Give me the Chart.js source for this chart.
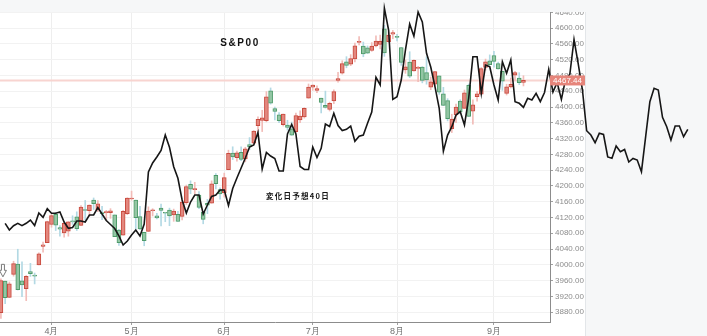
<!DOCTYPE html>
<html lang="ja">
<head>
  <meta charset="UTF-8">
  <title>S&P00</title>
  <script src="https://cdnjs.cloudflare.com/ajax/libs/Chart.js/4.4.1/chart.umd.min.js"></script>
  <style>
    * { margin: 0; padding: 0; }
    body { background: #f6f7f8; }
    canvas { display: block; }
  </style>
</head>
<body>
  <canvas id="chart" width="707" height="336"></canvas>

  <script>
    // month labels and the trading-day index where each month starts
    const monthLabels = ['4月', '5月', '6月', '7月', '8月', '9月'];
    const monthStarts = [12, 31, 53, 74, 94, 117];

    const yTicks = [3880, 3920, 3960, 4000, 4040, 4080, 4120, 4160, 4200, 4240, 4280, 4320,
      4360, 4400, 4440, 4480, 4520, 4560, 4600, 4640];

    // daily candles, 3/16 .. 9/13
    const opens = [3878.93,3958.69,3917.47,3975.89,4002.04,3959.21,3939.21,3982.93,3974.13,3999.53,4046.74,4056.18,
      4102.20,4128.03,4094.50,4081.15,4085.20,4110.29,4121.72,4100.04,4140.11,4137.17,4164.26,4139.33,4130.48,4132.14,4132.07,4126.43,4087.78,4075.29,4129.63,
      4166.79,4164.10,4122.25,4082.61,4084.73,4136.98,4124.25,4143.74,4132.24,4138.54,4126.65,4127.95,4122.85,4157.68,4204.15,4190.78,4176.80,4132.96,4155.71,4156.16,4226.71,4190.74,
      4183.03,4241.01,4282.99,4271.34,4285.47,4268.69,4304.88,4308.32,4352.61,4366.29,4365.33,4440.95,4396.11,4380.01,4355.40,4354.17,4344.84,4337.36,4367.48,4374.94,4422.44,
      4450.48,4442.04,4422.62,4404.54,4394.23,4415.55,4467.69,4485.63,4514.61,4508.86,4521.78,4563.87,4554.38,4550.16,4543.39,4555.19,4558.96,4598.26,4565.75,4584.82,
      4578.83,4550.93,4494.27,4513.96,4491.58,4498.03,4501.57,4487.16,4450.69,4458.13,4478.87,4433.79,4416.32,4344.88,4380.28,4415.33,4396.44,4455.16,4389.38,4426.03,4432.75,4500.34,4517.01,
      4530.60,4510.06,4490.35,4434.55,4451.30,4480.98,4473.27,4462.65];
    const highs = [3964.46,3958.91,3956.62,4009.08,4039.49,4007.66,3972.74,4003.83,3979.20,4030.59,4057.85,4110.75,
      4127.66,4133.13,4099.69,4107.32,4109.50,4124.26,4134.37,4150.26,4163.19,4151.72,4169.48,4162.57,4148.57,4138.02,4142.41,4126.43,4089.67,4138.24,4170.06,
      4186.92,4164.10,4148.30,4082.61,4147.02,4142.30,4130.35,4154.28,4132.80,4143.74,4141.25,4135.54,4164.67,4202.20,4212.91,4209.22,4185.68,4132.96,4165.74,4212.87,4231.10,4195.44,
      4232.43,4290.67,4299.28,4288.33,4299.19,4298.01,4322.62,4340.13,4375.37,4391.82,4439.20,4448.47,4400.15,4386.22,4382.25,4366.55,4362.06,4384.42,4390.35,4398.39,4458.48,
      4456.46,4454.06,4422.62,4440.39,4412.60,4443.64,4488.34,4517.38,4527.76,4532.85,4562.30,4578.43,4564.74,4555.00,4563.41,4580.62,4582.47,4607.07,4590.16,4594.22,
      4584.62,4550.93,4519.49,4540.34,4519.84,4503.31,4502.44,4527.37,4476.23,4490.33,4478.87,4449.95,4421.17,4381.82,4407.55,4418.59,4443.18,4458.30,4418.46,4439.56,4500.14,4521.65,4532.26,
      4541.25,4514.29,4490.35,4457.81,4473.53,4490.77,4487.11,4479.39];
    const lows = [3864.11,3901.27,3916.89,3971.19,3936.17,3919.05,3909.16,3970.49,3951.53,3999.53,4032.10,4056.18,
      4095.31,4086.87,4072.56,4069.84,4072.55,4102.61,4086.94,4099.40,4113.20,4123.18,4140.36,4134.49,4114.57,4113.86,4117.77,4071.38,4049.35,4075.29,4127.18,
      4164.12,4089.72,4088.86,4048.28,4084.73,4123.81,4116.65,4098.92,4109.29,4099.12,4110.27,4109.86,4113.62,4153.14,4180.20,4179.68,4142.54,4103.98,4129.73,4156.16,4192.18,4166.15,
      4171.64,4241.01,4266.82,4263.09,4263.96,4261.07,4291.70,4304.37,4337.66,4337.85,4362.60,4407.44,4367.19,4360.14,4351.82,4341.34,4328.08,4335.00,4360.22,4371.97,4422.44,
      4442.29,4436.61,4385.05,4397.40,4389.92,4408.46,4463.23,4483.44,4499.56,4504.90,4514.59,4557.48,4527.56,4535.79,4541.29,4552.42,4547.58,4528.56,4564.01,4573.14,
      4567.53,4505.75,4485.54,4474.55,4491.15,4464.39,4461.33,4457.92,4443.98,4453.44,4432.19,4403.55,4364.83,4335.31,4360.30,4382.77,4396.44,4375.55,4356.29,4414.98,4431.68,4493.59,4507.39,
      4501.35,4496.01,4442.38,4430.46,4448.38,4467.89,4456.83,4453.52];
    const closes = [3960.28,3916.64,3951.57,4002.87,3936.97,3948.72,3970.99,3977.53,3971.27,4027.81,4050.83,4109.31,
      4124.51,4100.60,4090.38,4105.02,4109.11,4108.94,4091.95,4146.22,4137.64,4151.32,4154.87,4154.52,4129.79,4133.52,4137.04,4071.63,4055.99,4135.35,4169.48,
      4167.87,4119.58,4090.75,4061.22,4136.25,4138.12,4119.17,4137.64,4130.62,4124.08,4136.28,4109.90,4158.77,4198.05,4191.98,4192.63,4145.58,4115.24,4151.28,4205.45,4205.52,4179.83,
      4221.02,4282.37,4273.79,4283.85,4267.52,4293.93,4298.86,4338.93,4369.01,4372.59,4425.84,4409.59,4388.71,4365.69,4381.89,4348.33,4328.82,4378.41,4376.86,4396.44,4450.38,
      4455.59,4446.82,4411.59,4398.95,4409.53,4439.26,4472.16,4510.04,4505.42,4522.79,4554.98,4565.72,4534.87,4536.34,4554.64,4567.46,4566.75,4537.41,4582.23,4588.96,
      4576.73,4513.39,4501.89,4478.03,4518.44,4499.38,4467.71,4468.83,4464.05,4489.72,4437.86,4404.33,4370.36,4369.71,4399.77,4387.55,4436.01,4376.31,4405.71,4433.31,4497.63,4514.87,4507.66,
      4515.77,4496.83,4465.48,4451.14,4457.49,4487.46,4461.90,4467.44];

    // forecast line (変化日予想), starts at day index 1 and runs past the last candle
    const forecastStart = 1;
    const forecast = [4105.2,4088.3,4099.2,4105.2,4099.2,4105.2,4113.6,4099.7,4131.4,4120.5,
      4142.3,4130.6,4130.6,4133.9,4108.5,4092.6,4094.6,4111.1,4111.1,4108.5,
      4126.3,4126.3,4145.3,4128.8,4112.4,4102.2,4092.1,4073.1,4050.2,4060.4,
      4075.6,4088.3,4073.1,4103.5,4235.3,4258.1,4273.4,4290.0,4329.1,4297.9,
      4248.8,4219.3,4164.3,4131.4,4159.3,4177.0,4177.0,4128.8,4151.6,4173.2,
      4177.0,4189.7,4189.7,4150.4,4193.5,4220.1,4245.5,4270.8,4298.7,4303.8,
      4335.5,4242.9,4284.8,4275.9,4269.6,4237.9,4237.9,4331.7,4355.8,4331.7,
      4249.3,4241.7,4241.7,4298.7,4272.1,4295.4,4357.0,4350.7,4384.2,4353.2,
      4340.5,4343.6,4351.9,4313.2,4325.8,4329.1,4358.8,4387.4,4475.4,4455.9,
      4650.4,4595.4,4419.6,4426.2,4468.6,4544.7,4610.6,4580.1,4641.0,4615.6,
      4536.3,4501.5,4451.6,4397.6,4288.0,4329.1,4350.2,4379.8,4388.2,4354.5,
      4422.2,4527.7,4527.7,4434.9,4506.6,4502.3,4455.9,4417.9,4515.0,4485.6,
      4519.3,4413.6,4409.5,4399.4,4422.2,4417.9,4434.9,4413.6,4436.9,4495.7,
      4438.2,4462.2,4419.6,4471.1,4482.5,4571.3,4509.2,4443.2,4340.0,4329.1,
      4309.6,4333.4,4330.4,4273.4,4270.1,4301.2,4286.8,4292.4,4260.7,4269.6,
      4265.7,4236.1,4324.8,4413.6,4447.5,4443.2,4374.0,4350.2,4316.5,4351.9,
      4351.9,4324.8,4343.6];

    const titleText = 'S&P00';
    const noteText = '変化日予想40日';

    const lastClose = closes[closes.length - 1];
    const isUp = i => closes[i] >= opens[i];

    const wickData = opens.map((o, i) => ({ x: i, y: [lows[i], highs[i]] }));
    const bodyData = opens.map((o, i) => ({ x: i, y: [o, closes[i]] }));
    const lineData = forecast.map((v, i) => ({ x: forecastStart + i, y: v }));

    const decor = {
      id: 'decor',
      beforeDraw(chart) {
        const c = chart.ctx;
        c.save();
        c.fillStyle = '#f6f7f8';
        c.fillRect(0, 0, chart.width, chart.height);
        c.fillStyle = '#ffffff';
        c.fillRect(0, 12, 585, chart.height - 12);
        c.fillStyle = '#e3e6e9';
        c.fillRect(585, 12, 1, chart.height - 12);
        c.restore();
      },
      beforeDatasetsDraw(chart) {
        const c = chart.ctx;
        const a = chart.chartArea;
        const y = chart.scales.y.getPixelForValue(lastClose);
        c.save();
        c.strokeStyle = '#f8d4d0';
        c.lineWidth = 2;
        c.beginPath();
        c.moveTo(a.left, y);
        c.lineTo(a.right, y);
        c.stroke();
        c.restore();
      },
      afterDraw(chart) {
        const c = chart.ctx;
        const a = chart.chartArea;
        const xs = chart.scales.x, ys = chart.scales.y;
        c.save();

        // hide the part of the top tick label above the panel
        c.fillStyle = '#f6f7f8';
        c.fillRect(a.right + 1, 0, 585 - a.right - 1, 12);

        // last price tag
        const py = ys.getPixelForValue(lastClose);
        c.fillStyle = '#e6857b';
        c.fillRect(a.right, py - 5, 35, 10);
        c.fillStyle = '#ffffff';
        c.font = '8px "Liberation Sans", Arial, sans-serif';
        c.textAlign = 'center';
        c.textBaseline = 'middle';
        c.fillText(lastClose.toFixed(2), a.right + 17.5, py + 0.5);

        // texts
        c.fillStyle = '#111111';
        c.font = 'bold 10px "Liberation Sans", Arial, sans-serif';
        c.letterSpacing = '1.6px';
        c.fillText(titleText, 240, 43);
        c.font = 'bold 7.5px "Noto Sans CJK JP", sans-serif';
        c.letterSpacing = '1.3px';
        c.fillText(noteText, 298, 196);
        c.letterSpacing = '0px';

        // outlined arrow over the first candle
        const ax = xs.getPixelForValue(0) + 2;
        const ay = ys.getPixelForValue(highs[0]) - 2;
        c.beginPath();
        c.moveTo(ax - 1.5, ay - 12.5);
        c.lineTo(ax + 1.5, ay - 12.5);
        c.lineTo(ax + 1.5, ay - 6.5);
        c.lineTo(ax + 3.5, ay - 6.5);
        c.lineTo(ax, ay);
        c.lineTo(ax - 3.5, ay - 6.5);
        c.lineTo(ax - 1.5, ay - 6.5);
        c.closePath();
        c.fillStyle = '#ffffff';
        c.fill();
        c.strokeStyle = '#7a7a7a';
        c.lineWidth = 1;
        c.stroke();
        c.restore();
      }
    };

    const config = {
      data: {
        datasets: [{
          type: 'line',
          data: lineData,
          borderColor: '#161616',
          borderWidth: 1.6,
          pointRadius: 0,
          tension: 0,
          clip: false,
          order: 0
        }, {
          type: 'bar',
          data: bodyData,
          grouped: false,
          barThickness: 4,
          minBarLength: 1,
          borderWidth: 1,
          borderSkipped: false,
          backgroundColor: ctx => isUp(ctx.dataIndex) ? '#e3877e' : '#93c6a4',
          borderColor: ctx => isUp(ctx.dataIndex) ? '#c84a3e' : '#4d9a69',
          order: 1
        }, {
          type: 'bar',
          data: wickData,
          grouped: false,
          barThickness: 1,
          backgroundColor: ctx => isUp(ctx.dataIndex) ? '#f2bcb8' : '#b3d9e4',
          order: 2
        }]
      },
      options: {
        responsive: false,
        devicePixelRatio: 1,
        animation: false,
        layout: { padding: { left: 0, right: 122, top: 12, bottom: 0 } },
        plugins: { legend: { display: false }, tooltip: { enabled: false } },
        scales: {
          x: {
            type: 'linear',
            bounds: 'data',
            offset: false,
            afterDataLimits: s => { s.min = -0.22; s.max = 130.3; },
            afterBuildTicks: s => { s.ticks = monthStarts.map(v => ({ value: v })); },
            afterFit: s => { s.height = 14; },
            grid: { color: '#eeeeee', tickLength: 3, tickColor: '#a0a0a0', offset: false },
            border: { color: '#8c8c8c' },
            ticks: {
              autoSkip: false,
              maxRotation: 0,
              padding: 1,
              color: '#707070',
              font: { size: 9, family: '"Liberation Sans", Arial, sans-serif' },
              callback: (v, i) => monthLabels[i]
            }
          },
          y: {
            position: 'right',
            min: 3855,
            max: 4641,
            afterBuildTicks: s => { s.ticks = yTicks.map(v => ({ value: v })); },
            afterFit: s => { s.width = 35; },
            grid: { color: '#f2f2f2', tickLength: 3, tickColor: '#a0a0a0' },
            border: { color: '#8c8c8c' },
            ticks: {
              padding: 2,
              color: '#8c8c8c',
              font: { size: 8, family: '"Liberation Sans", Arial, sans-serif' },
              callback: v => v.toFixed(2)
            }
          }
        }
      },
      plugins: [decor]
    };

    const chart = new Chart(document.getElementById('chart').getContext('2d'), config);
  </script>
</body>
</html>
